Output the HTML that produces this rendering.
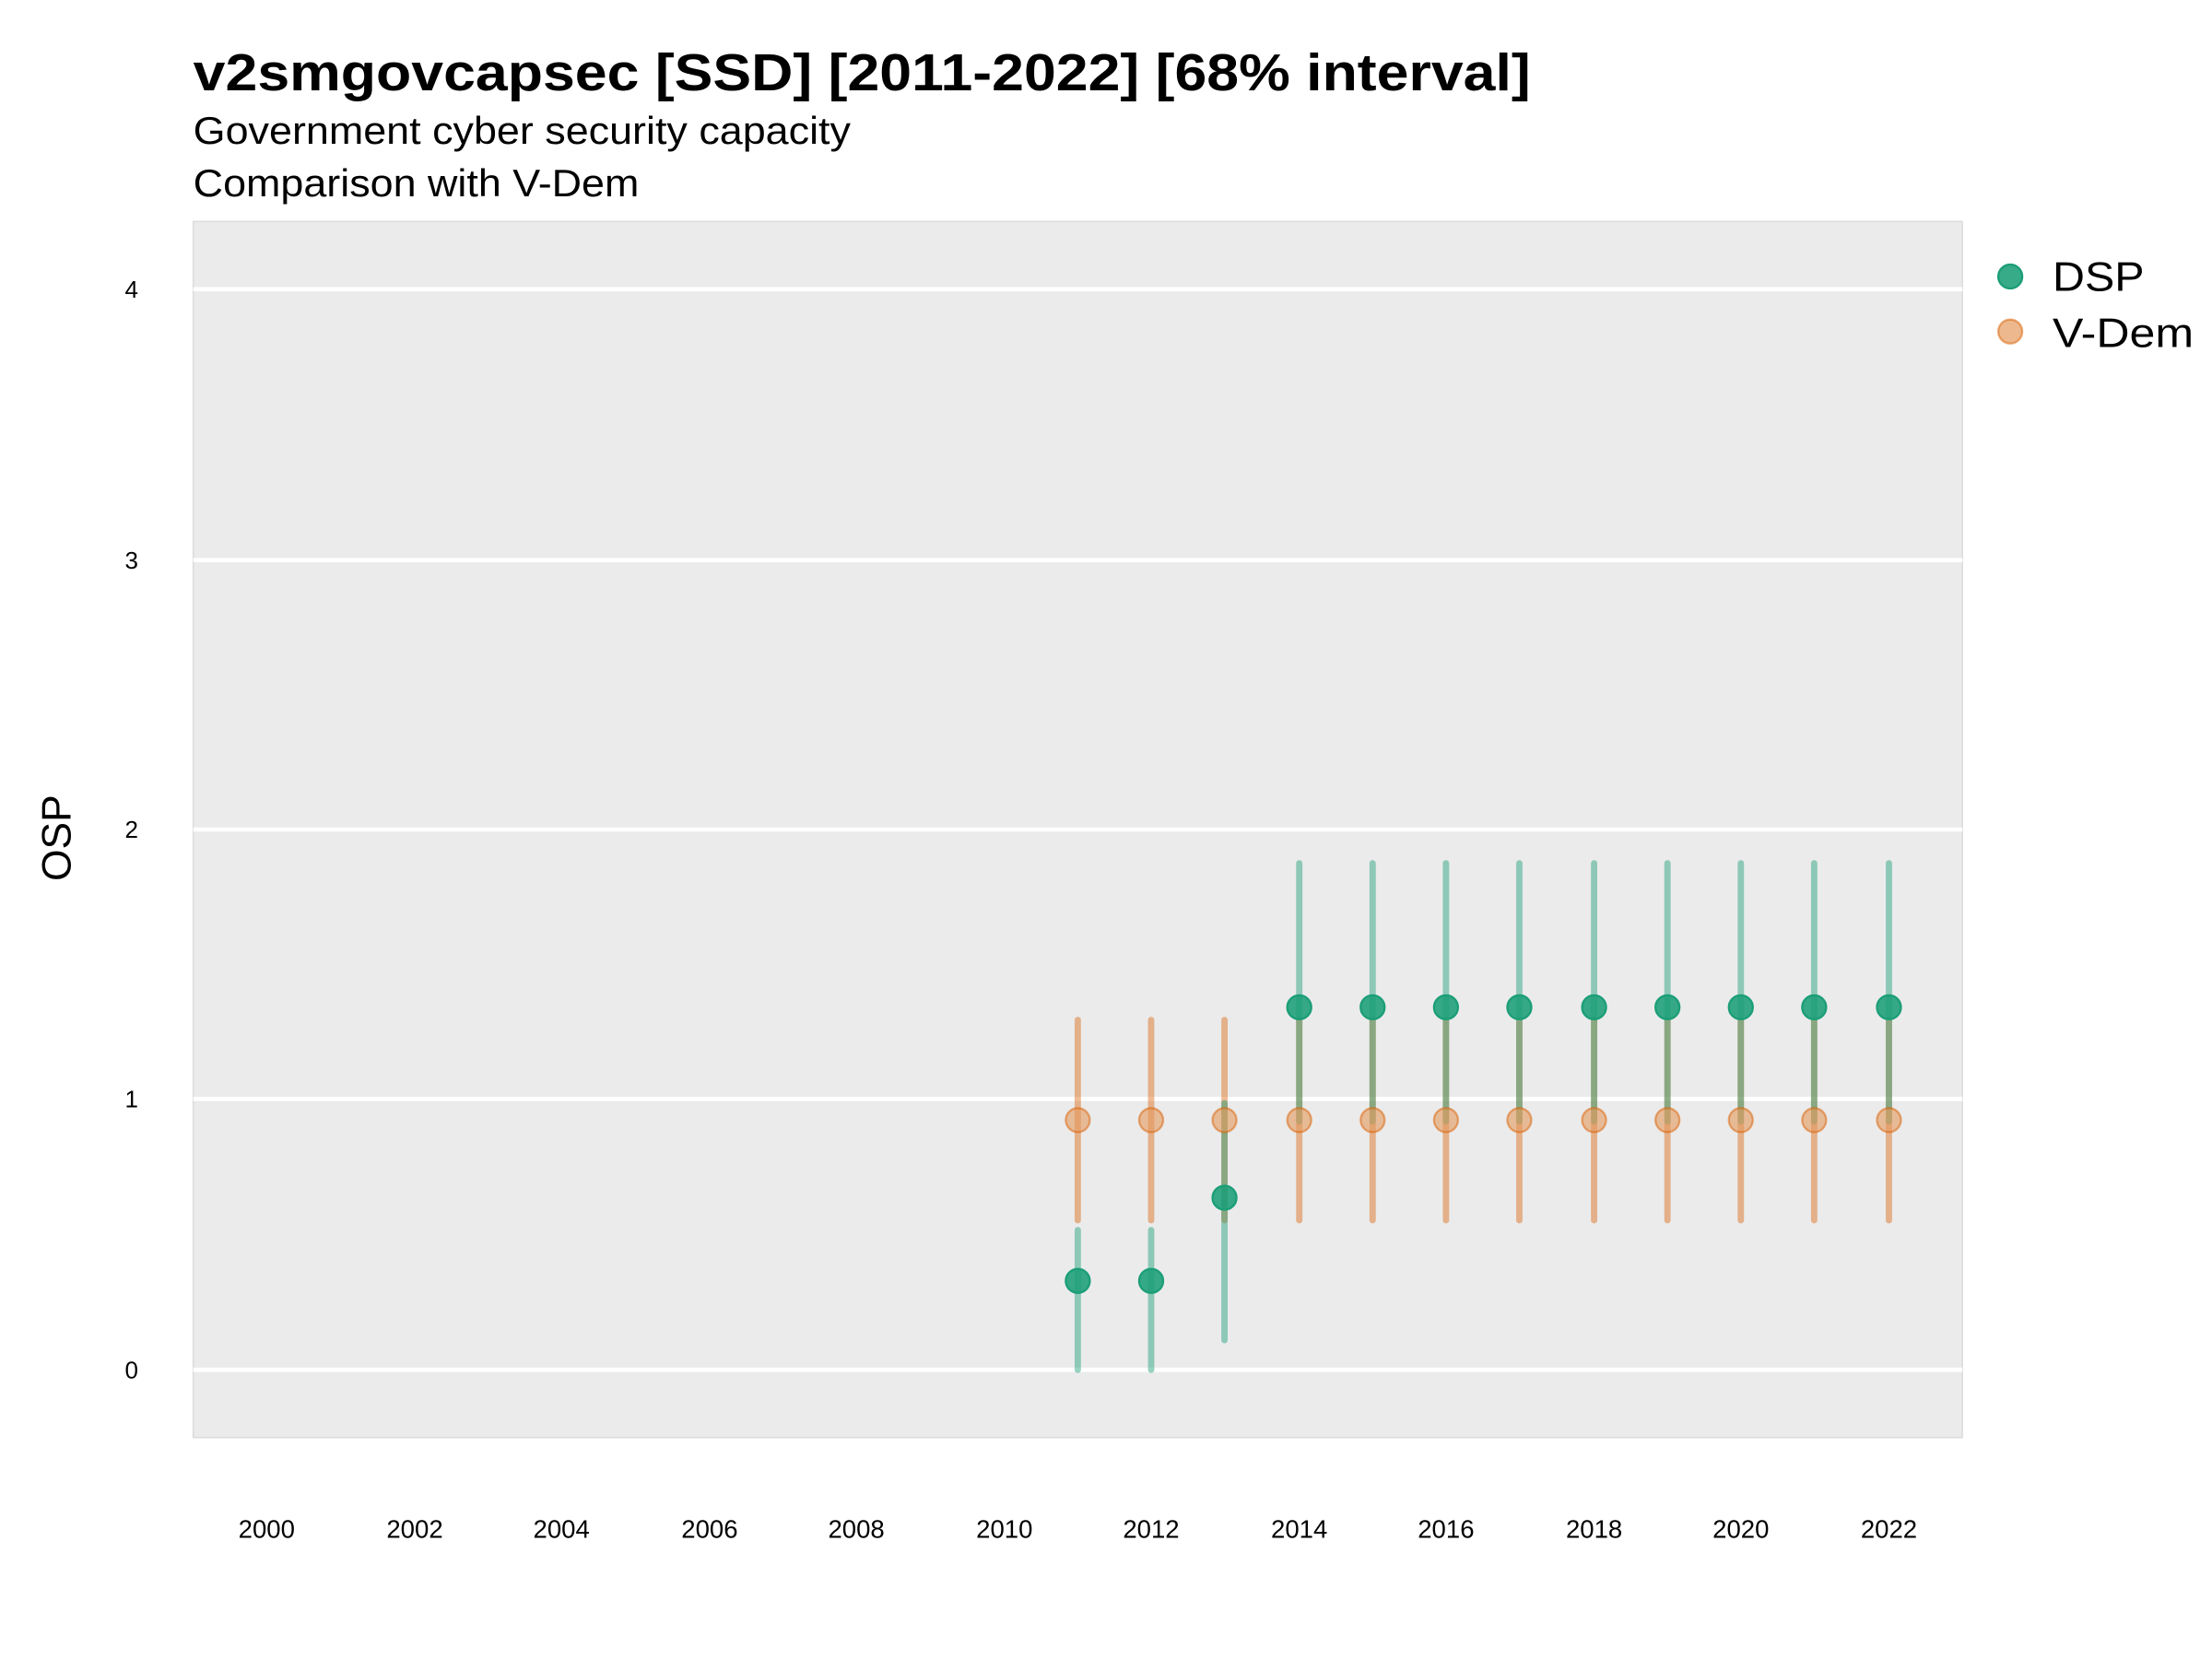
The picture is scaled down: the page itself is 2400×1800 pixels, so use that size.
<!DOCTYPE html>
<html><head><meta charset="utf-8"><style>html,body{margin:0;padding:0;background:#fff}svg{display:block}</style></head>
<body>
<svg width="2400" height="1800" viewBox="0 0 1568 1176" xmlns="http://www.w3.org/2000/svg" font-family="Liberation Sans, sans-serif">
<rect width="1568" height="1176" fill="#fff"/>
<text x="137" y="64" font-size="37" font-weight="bold" textLength="948" lengthAdjust="spacingAndGlyphs">v2smgovcapsec [SSD] [2011-2022] [68% interval]</text>
<text x="137" y="102" font-size="27" textLength="466" lengthAdjust="spacingAndGlyphs">Government cyber security capacity</text>
<text x="137" y="139" font-size="27" textLength="316" lengthAdjust="spacingAndGlyphs">Comparison with V-Dem</text>
<rect x="137" y="157" width="1254" height="862" fill="#ebebeb" stroke="#dcdcdc" stroke-width="1"/>
<g stroke="#fff" stroke-width="3">
<line x1="137" x2="1391" y1="205" y2="205"/>
<line x1="137" x2="1391" y1="397" y2="397"/>
<line x1="137" x2="1391" y1="588" y2="588"/>
<line x1="137" x2="1391" y1="779" y2="779"/>
<line x1="137" x2="1391" y1="971" y2="971"/>
</g>
<g font-size="17" text-anchor="end">
<text x="98" y="211">4</text><text x="98" y="403">3</text><text x="98" y="594">2</text><text x="98" y="785">1</text><text x="98" y="977">0</text>
</g>
<g font-size="18" text-anchor="middle">
<text x="189" y="1090">2000</text><text x="294" y="1090">2002</text><text x="398" y="1090">2004</text><text x="503" y="1090">2006</text><text x="607" y="1090">2008</text><text x="712" y="1090">2010</text><text x="816" y="1090">2012</text><text x="921" y="1090">2014</text><text x="1025" y="1090">2016</text><text x="1130" y="1090">2018</text><text x="1234" y="1090">2020</text><text x="1339" y="1090">2022</text>
</g>
<text transform="translate(50,594) rotate(-90)" font-size="29" text-anchor="middle">OSP</text>
<g stroke-linecap="round" stroke-width="4.5">
<g stroke="#d95f02" stroke-opacity="0.42">
<line x1="764" x2="764" y1="723" y2="865"/><line x1="816" x2="816" y1="723" y2="865"/><line x1="868" x2="868" y1="723" y2="865"/><line x1="921" x2="921" y1="723" y2="865"/><line x1="973" x2="973" y1="723" y2="865"/><line x1="1025" x2="1025" y1="723" y2="865"/><line x1="1077" x2="1077" y1="723" y2="865"/><line x1="1130" x2="1130" y1="723" y2="865"/><line x1="1182" x2="1182" y1="723" y2="865"/><line x1="1234" x2="1234" y1="723" y2="865"/><line x1="1286" x2="1286" y1="723" y2="865"/><line x1="1339" x2="1339" y1="723" y2="865"/>
</g>
<g stroke="#1b9e77" stroke-opacity="0.45">
<line x1="764" x2="764" y1="872" y2="971"/><line x1="816" x2="816" y1="872" y2="971"/><line x1="868" x2="868" y1="782" y2="950"/><line x1="921" x2="921" y1="612" y2="795"/><line x1="973" x2="973" y1="612" y2="795"/><line x1="1025" x2="1025" y1="612" y2="795"/><line x1="1077" x2="1077" y1="612" y2="795"/><line x1="1130" x2="1130" y1="612" y2="795"/><line x1="1182" x2="1182" y1="612" y2="795"/><line x1="1234" x2="1234" y1="612" y2="795"/><line x1="1286" x2="1286" y1="612" y2="795"/><line x1="1339" x2="1339" y1="612" y2="795"/>
</g>
</g>
<g fill="#e59a5e" fill-opacity="0.6" stroke="#d95f02" stroke-opacity="0.5" stroke-width="1.5">
<circle cx="764" cy="794" r="8.5"/><circle cx="816" cy="794" r="8.5"/><circle cx="868" cy="794" r="8.5"/><circle cx="921" cy="794" r="8.5"/><circle cx="973" cy="794" r="8.5"/><circle cx="1025" cy="794" r="8.5"/><circle cx="1077" cy="794" r="8.5"/><circle cx="1130" cy="794" r="8.5"/><circle cx="1182" cy="794" r="8.5"/><circle cx="1234" cy="794" r="8.5"/><circle cx="1286" cy="794" r="8.5"/><circle cx="1339" cy="794" r="8.5"/>
</g>
<g fill="#1b9e77" fill-opacity="0.88" stroke="#1b9e77" stroke-width="1.5">
<circle cx="764" cy="908" r="8.5"/><circle cx="816" cy="908" r="8.5"/><circle cx="868" cy="849" r="8.5"/><circle cx="921" cy="714" r="8.5"/><circle cx="973" cy="714" r="8.5"/><circle cx="1025" cy="714" r="8.5"/><circle cx="1077" cy="714" r="8.5"/><circle cx="1130" cy="714" r="8.5"/><circle cx="1182" cy="714" r="8.5"/><circle cx="1234" cy="714" r="8.5"/><circle cx="1286" cy="714" r="8.5"/><circle cx="1339" cy="714" r="8.5"/>
</g>
<circle cx="1425" cy="196" r="8.5" fill="#1b9e77" fill-opacity="0.88" stroke="#1b9e77" stroke-width="1.5"/>
<circle cx="1425" cy="235" r="8.5" fill="#e59a5e" fill-opacity="0.7" stroke="#d95f02" stroke-opacity="0.5" stroke-width="1.5"/>
<text x="1455" y="206" font-size="29" textLength="65" lengthAdjust="spacingAndGlyphs">DSP</text>
<text x="1455" y="246" font-size="29" textLength="100" lengthAdjust="spacingAndGlyphs">V-Dem</text>
</svg>
</body></html>
